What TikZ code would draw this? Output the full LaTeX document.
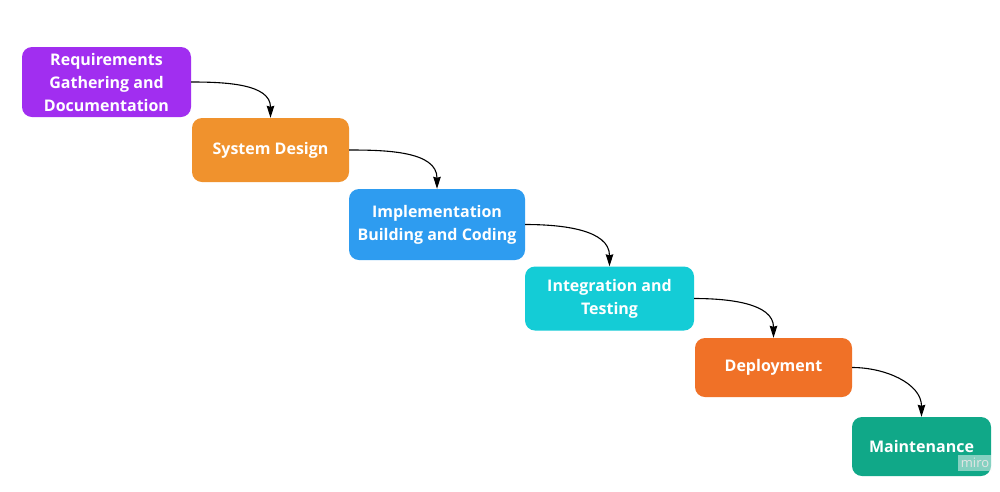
\documentclass[tikz,border=0pt]{standalone}
\usepackage{fontspec}
\setmainfont{Open Sans}
\usetikzlibrary{arrows.meta}
\definecolor{cReq}{HTML}{A12EF0}
\definecolor{cSys}{HTML}{F0922D}
\definecolor{cImp}{HTML}{2E9CF0}
\definecolor{cInt}{HTML}{14CCD6}
\definecolor{cDep}{HTML}{F07127}
\definecolor{cMai}{HTML}{10A888}
\tikzset{
  phase/.style={rounded corners=10pt, inner sep=0pt, align=center, text=white,
    font=\fontsize{16}{23}\selectfont\bfseries},
  flow/.style={-{Stealth[length=12pt,width=7.5pt,inset=1pt]}, line width=1.1pt, black}
}
\begin{document}
\begin{tikzpicture}[x=1pt,y=-1pt]
\useasboundingbox[fill=white] (0,0) rectangle (1000,491);
\node[phase, fill=cReq, minimum width=169pt, minimum height=70pt] (req) at (106.5,82) {Requirements\\Gathering and\\Documentation};
\node[phase, fill=cSys, minimum width=157pt, minimum height=64pt] (sys) at (270.5,150) {System Design};
\node[phase, fill=cImp, minimum width=176pt, minimum height=71pt] (imp) at (437,224.5) {Implementation\\Building and Coding};
\node[phase, fill=cInt, minimum width=169pt, minimum height=64pt] (int) at (609.5,298.5) {Integration and\\Testing};
\node[phase, fill=cDep, minimum width=157pt, minimum height=59pt] (dep) at (773.5,367.5) {Deployment};
\node[phase, fill=cMai, minimum width=139pt, minimum height=59pt] (mai) at (921.5,446.5) {Maintenance};
\node[font=\fontsize{13}{13}\selectfont, text=black!10, fill=black!2, fill opacity=0.5, text opacity=1, inner sep=3pt] (miro) at (975,463) {miro};
\draw[flow] (req.east) to[out=0,in=90] (sys.north);
\draw[flow] (sys.east) to[out=0,in=90] (imp.north);
\draw[flow] (imp.east) to[out=0,in=90] (int.north);
\draw[flow] (int.east) to[out=0,in=90] (dep.north);
\draw[flow] (dep.east) to[out=0,in=90] (mai.north);
\end{tikzpicture}
\end{document}
